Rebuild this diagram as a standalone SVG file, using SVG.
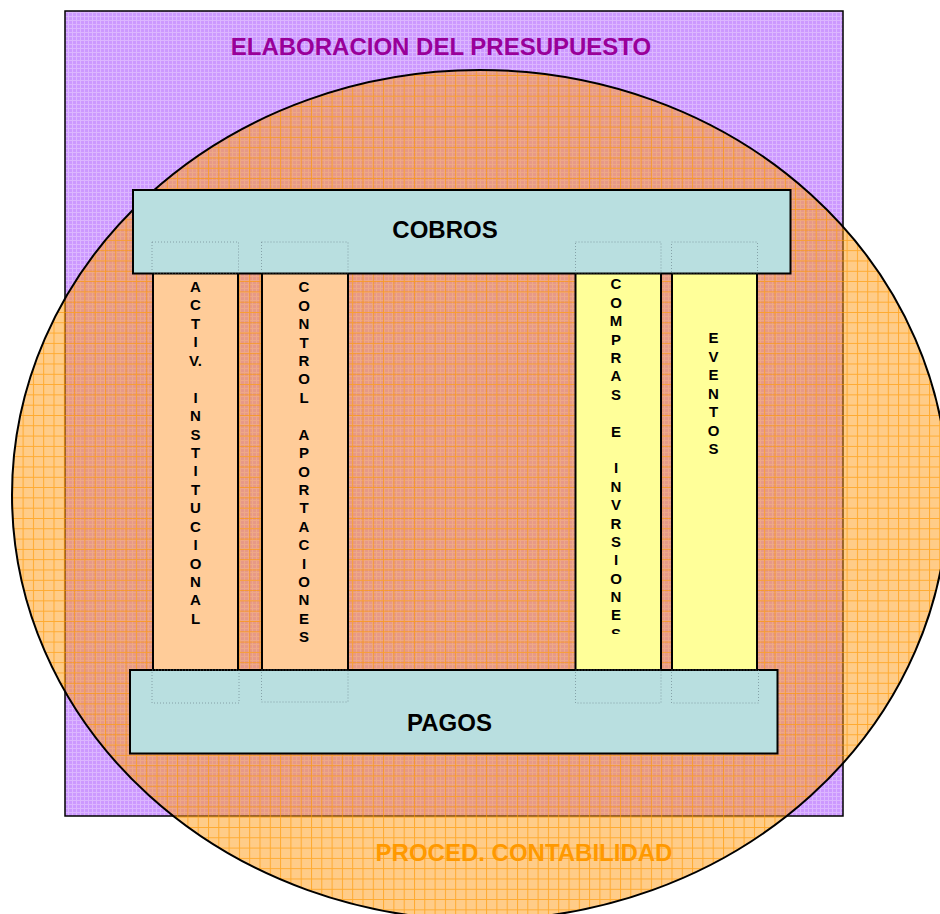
<svg xmlns="http://www.w3.org/2000/svg" width="940" height="914" viewBox="0 0 940 914">
  <defs>
    <!-- fine lattice for the budget area -->
    <pattern id="lilacGrid" patternUnits="userSpaceOnUse" width="4" height="4">
      <rect width="4" height="4" fill="#cc99ff"/>
      <path d="M0 0.5H4M0.5 0V4" stroke="#dcb6ff" stroke-width="1"/>
    </pattern>
    <!-- squared paper texture for the accounting ellipse -->
    <pattern id="orangeGrid" patternUnits="userSpaceOnUse" width="10.3" height="10.3" x="2" y="3">
      <rect width="10.3" height="10.3" fill="#ff9911" fill-opacity="0.5"/>
      <path d="M0 0.5H10.3M0.5 0V10.3" stroke="#ff9900" stroke-width="1" stroke-opacity="0.65"/>
    </pattern>
    <clipPath id="clipCol3">
      <rect x="575" y="273" width="86" height="361"/>
    </clipPath>
    <style>
      .frame { stroke: #000; stroke-width: 2; }
      .band { fill: #b9dfe0; }
      .orange { fill: #ffcc99; }
      .yellow { fill: #ffff99; }
      .ghost { fill: none; stroke: #6f8890; stroke-width: 1; stroke-dasharray: 1 2; opacity: 0.7; }
      .big { font-family: "Liberation Sans", Arial, sans-serif; font-weight: bold; font-size: 24px; text-anchor: middle; }
      .col { font-family: "Liberation Sans", Arial, sans-serif; font-weight: bold; font-size: 15px; text-anchor: middle; fill: #000; }
    </style>
  </defs>

  <rect width="940" height="914" fill="#fff"/>

  <g id="presupuesto">
    <rect x="65" y="11" width="778" height="805" fill="url(#lilacGrid)" stroke="#000" stroke-width="1.5"/>
    <text class="big" x="441" y="55" fill="#990099">ELABORACION DEL PRESUPUESTO</text>
  </g>

  <g id="contabilidad">
    <ellipse cx="480" cy="495" rx="468" ry="425" fill="url(#orangeGrid)" stroke="#000" stroke-width="2"/>
    <text class="big" x="524" y="861" fill="#ff9900">PROCED. CONTABILIDAD</text>
  </g>

  <g id="col-activ">
    <rect class="orange frame" x="153" y="273" width="85" height="397"/>
    <text class="col" y="292">
      <tspan x="195.5">A</tspan><tspan x="195.5" dy="18.44">C</tspan><tspan x="195.5" dy="18.44">T</tspan><tspan x="195.5" dy="18.44">I</tspan><tspan x="195.5" dy="18.44">V.</tspan><tspan x="195.5" dy="36.88">I</tspan><tspan x="195.5" dy="18.44">N</tspan><tspan x="195.5" dy="18.44">S</tspan><tspan x="195.5" dy="18.44">T</tspan><tspan x="195.5" dy="18.44">I</tspan><tspan x="195.5" dy="18.44">T</tspan><tspan x="195.5" dy="18.44">U</tspan><tspan x="195.5" dy="18.44">C</tspan><tspan x="195.5" dy="18.44">I</tspan><tspan x="195.5" dy="18.44">O</tspan><tspan x="195.5" dy="18.44">N</tspan><tspan x="195.5" dy="18.44">A</tspan><tspan x="195.5" dy="18.44">L</tspan>
    </text>
  </g>

  <g id="col-control">
    <rect class="orange frame" x="262" y="273" width="86" height="397"/>
    <text class="col" y="292.3">
      <tspan x="304">C</tspan><tspan x="304" dy="18.42">O</tspan><tspan x="304" dy="18.42">N</tspan><tspan x="304" dy="18.42">T</tspan><tspan x="304" dy="18.42">R</tspan><tspan x="304" dy="18.42">O</tspan><tspan x="304" dy="18.42">L</tspan><tspan x="304" dy="36.84">A</tspan><tspan x="304" dy="18.42">P</tspan><tspan x="304" dy="18.42">O</tspan><tspan x="304" dy="18.42">R</tspan><tspan x="304" dy="18.42">T</tspan><tspan x="304" dy="18.42">A</tspan><tspan x="304" dy="18.42">C</tspan><tspan x="304" dy="18.42">I</tspan><tspan x="304" dy="18.42">O</tspan><tspan x="304" dy="18.42">N</tspan><tspan x="304" dy="18.42">E</tspan><tspan x="304" dy="18.42">S</tspan>
    </text>
  </g>

  <g id="col-compras">
    <rect class="yellow frame" x="575.5" y="273" width="85.5" height="397"/>
    <text class="col" y="289.3" clip-path="url(#clipCol3)">
      <tspan x="616">C</tspan><tspan x="616" dy="18.4">O</tspan><tspan x="616" dy="18.4">M</tspan><tspan x="616" dy="18.4">P</tspan><tspan x="616" dy="18.4">R</tspan><tspan x="616" dy="18.4">A</tspan><tspan x="616" dy="18.4">S</tspan><tspan x="616" dy="36.8">E</tspan><tspan x="616" dy="36.8">I</tspan><tspan x="616" dy="18.4">N</tspan><tspan x="616" dy="18.4">V</tspan><tspan x="616" dy="18.4">R</tspan><tspan x="616" dy="18.4">S</tspan><tspan x="616" dy="18.4">I</tspan><tspan x="616" dy="18.4">O</tspan><tspan x="616" dy="18.4">N</tspan><tspan x="616" dy="18.4">E</tspan><tspan x="616" dy="18.4">S</tspan>
    </text>
  </g>

  <g id="col-eventos">
    <rect class="yellow frame" x="672" y="273" width="85" height="397"/>
    <text class="col" y="343.3">
      <tspan x="713.5">E</tspan><tspan x="713.5" dy="18.5">V</tspan><tspan x="713.5" dy="18.5">E</tspan><tspan x="713.5" dy="18.5">N</tspan><tspan x="713.5" dy="18.5">T</tspan><tspan x="713.5" dy="18.5">O</tspan><tspan x="713.5" dy="18.5">S</tspan>
    </text>
  </g>

  <g id="cobros">
    <rect class="band frame" x="133" y="190" width="657.5" height="83.5"/>
    <rect class="ghost" x="152" y="242" width="86.5" height="31"/>
    <rect class="ghost" x="261.5" y="242" width="86.5" height="31"/>
    <rect class="ghost" x="575.5" y="242" width="85.5" height="31"/>
    <rect class="ghost" x="671.5" y="242" width="86" height="31"/>
    <text class="big" x="445" y="238" fill="#000">COBROS</text>
  </g>

  <g id="pagos">
    <rect class="band frame" x="130" y="670" width="647.5" height="83.5"/>
    <rect class="ghost" x="152" y="670" width="87" height="33"/>
    <rect class="ghost" x="261.5" y="670" width="86.5" height="32"/>
    <rect class="ghost" x="575.5" y="670" width="85.5" height="33"/>
    <rect class="ghost" x="671.5" y="670" width="87" height="33"/>
    <text class="big" x="449.5" y="731" fill="#000">PAGOS</text>
  </g>

  <g id="connectors"/>
</svg>
